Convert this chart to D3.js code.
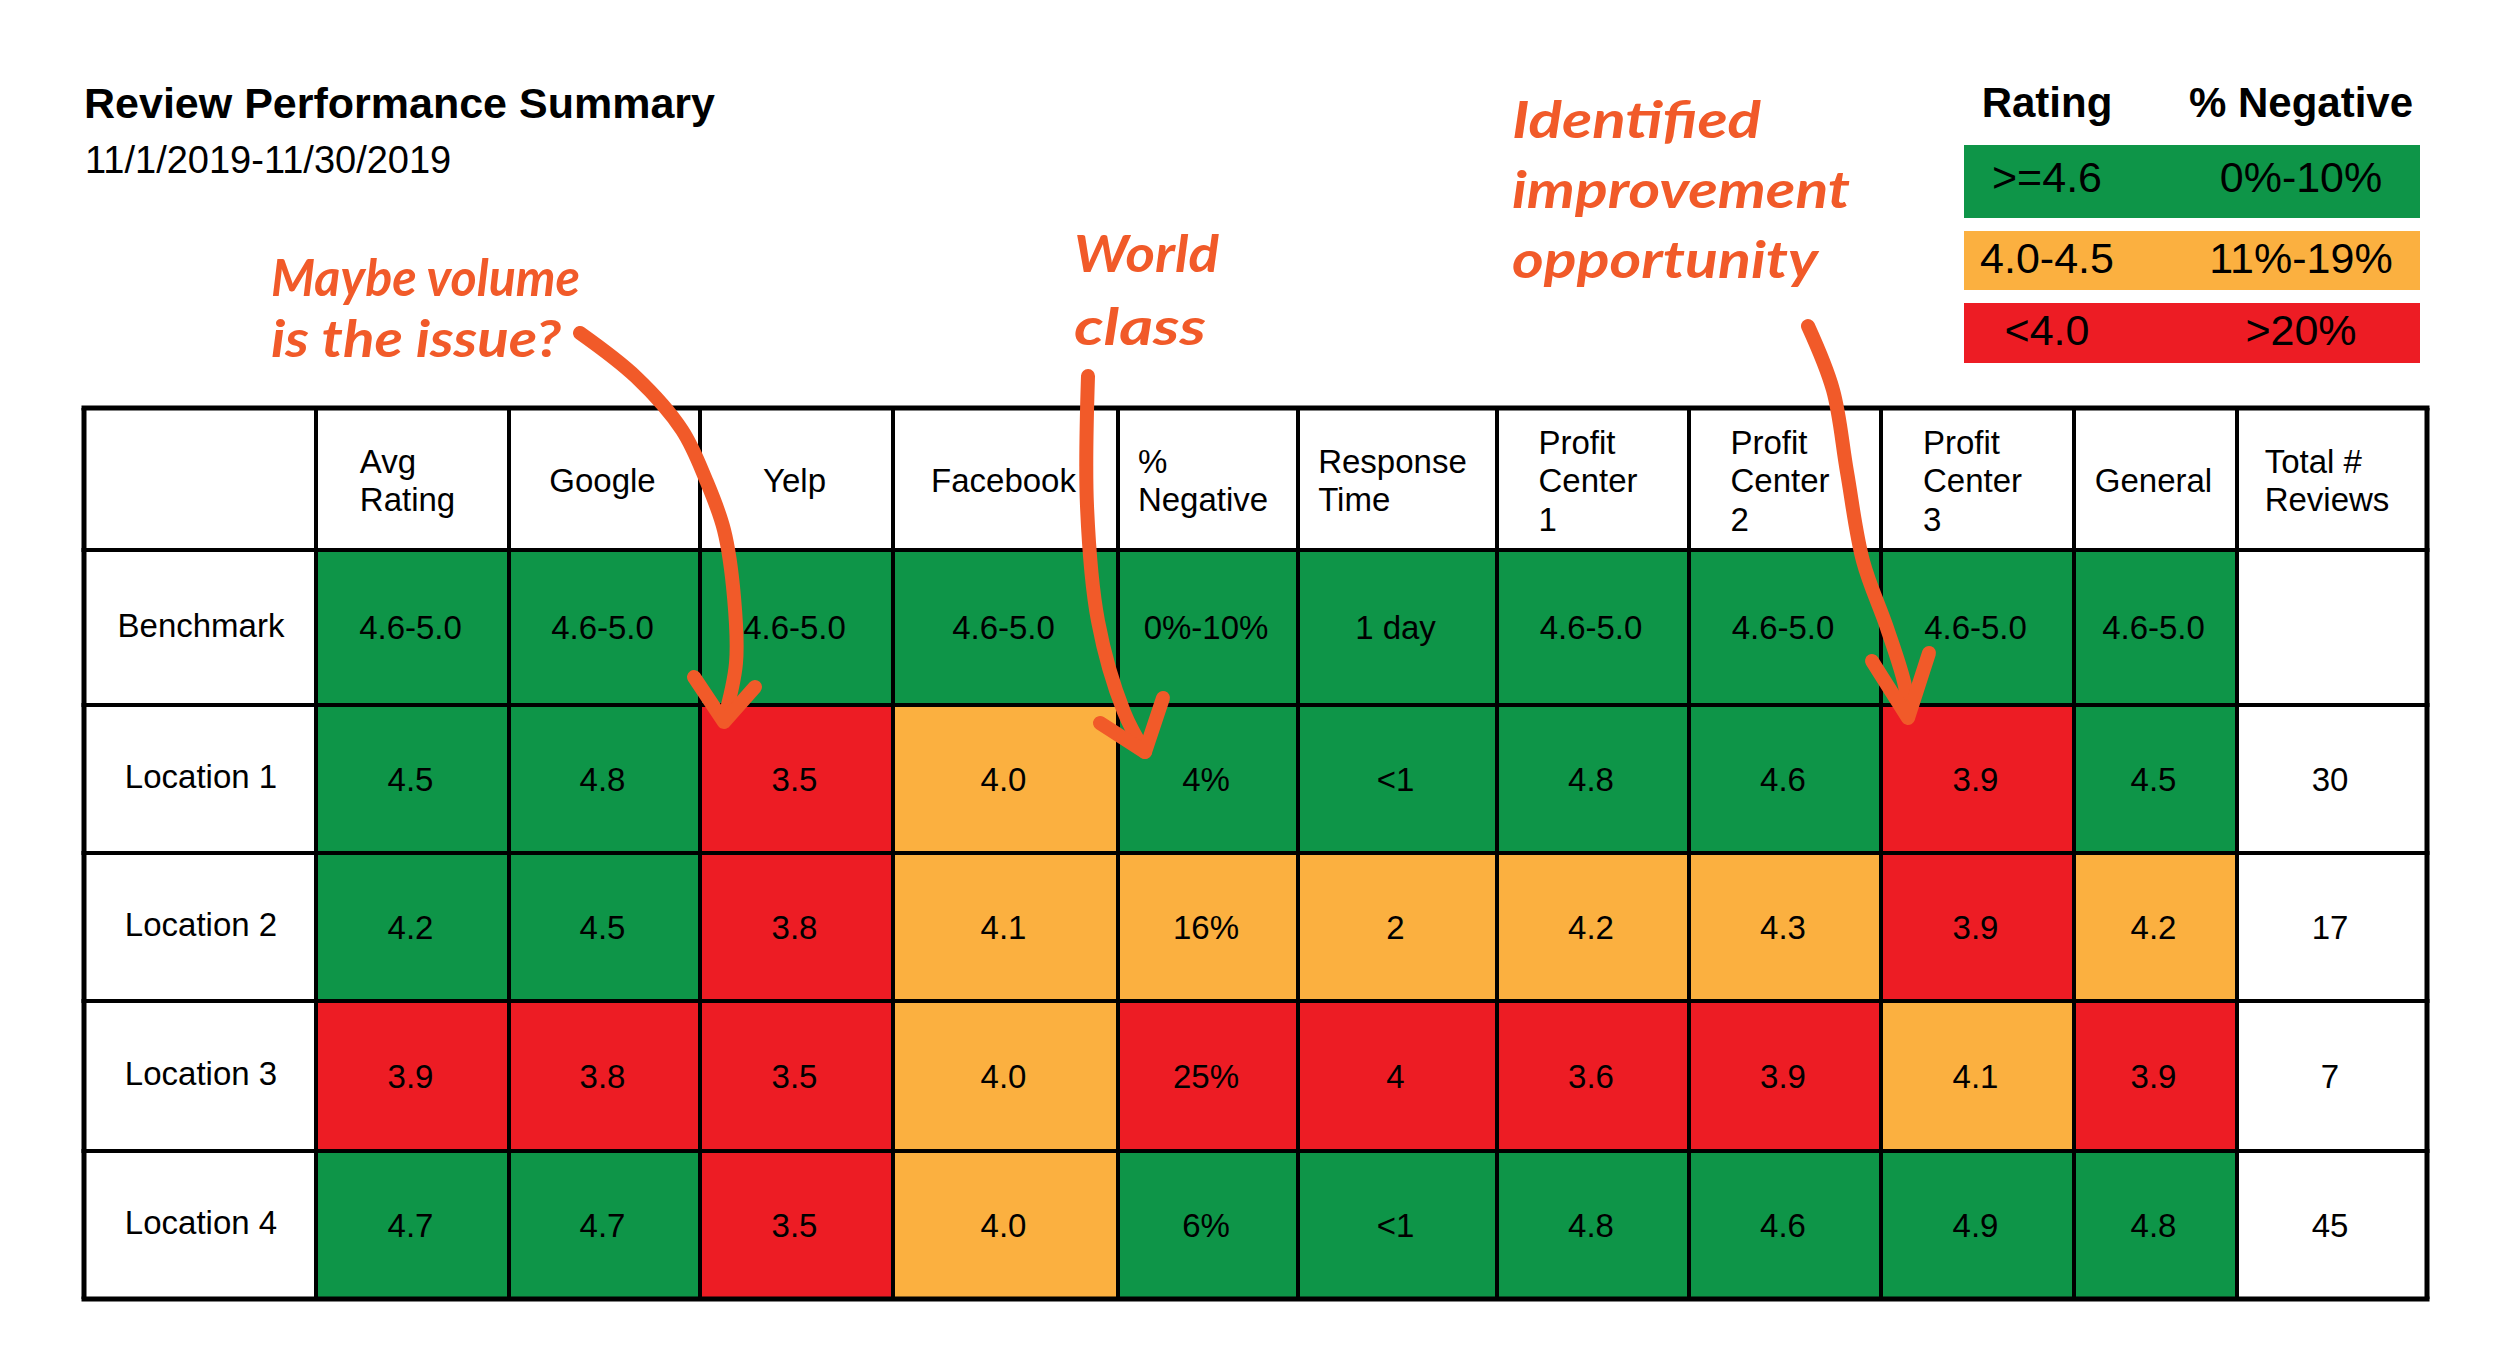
<!DOCTYPE html>
<html><head><meta charset="utf-8">
<script src="https://cdn.jsdelivr.net/npm/d3@7"></script>
<style>body{margin:0;background:#fff} svg{display:block}</style>
</head><body><svg id="c" width="2500" height="1367"></svg>
<script>
// ---------- DATA ----------
const title = "Review Performance Summary";
const subtitle = "11/1/2019-11/30/2019";
const columnHeaders = [[], ["Avg","Rating"], ["Google"], ["Yelp"], ["Facebook"], ["%","Negative"], ["Response","Time"], ["Profit","Center","1"], ["Profit","Center","2"], ["Profit","Center","3"], ["General"], ["Total #","Reviews"]];
const rowLabels = ["Benchmark","Location 1","Location 2","Location 3","Location 4"];
const cellValues = [
 ["4.6-5.0","4.6-5.0","4.6-5.0","4.6-5.0","0%-10%","1 day","4.6-5.0","4.6-5.0","4.6-5.0","4.6-5.0",""],
 ["4.5","4.8","3.5","4.0","4%","<1","4.8","4.6","3.9","4.5","30"],
 ["4.2","4.5","3.8","4.1","16%","2","4.2","4.3","3.9","4.2","17"],
 ["3.9","3.8","3.5","4.0","25%","4","3.6","3.9","4.1","3.9","7"],
 ["4.7","4.7","3.5","4.0","6%","<1","4.8","4.6","4.9","4.8","45"]
];
const cellStatus = [
 ["g","g","g","g","g","g","g","g","g","g","n"],
 ["g","g","r","o","g","g","g","g","r","g","n"],
 ["g","g","r","o","o","o","o","o","r","o","n"],
 ["r","r","r","o","r","r","r","r","o","r","n"],
 ["g","g","r","o","g","g","g","g","g","g","n"]
];
const legendHeaders = ["Rating","% Negative"];
const legendRating = [">=4.6","4.0-4.5","<4.0"];
const legendNegative = ["0%-10%","11%-19%",">20%"];
const legendStatus = ["g","o","r"];
const annotationTexts = [["Maybe volume","is the issue?"], ["World","class"], ["Identified","improvement","opportunity"]];

// ---------- LAYOUT ----------
const W = 2500, H = 1367;
const colEdges = [84,316,509,700,893,1118,1298,1497,1689,1881,2074,2237,2427];
const rowEdges = [408,550,705,853,1001,1151,1299];
const font = "'Liberation Sans', Arial, Helvetica, sans-serif";
const hand = "Lato, 'Noto Sans', sans-serif";
const orange = "#F15A29";
const tableFont = 33;

const svg = d3.select("#c");
svg.append("rect").attr("width", W).attr("height", H).attr("fill", "#fff");

const color = d3.scaleOrdinal().domain(["g","o","r","n"]).range(["#0E9548","#FBB040","#ED1C24","#FFFFFF"]);
const xEdge = d3.scaleOrdinal().domain(d3.range(colEdges.length)).range(colEdges);
const yEdge = d3.scaleOrdinal().domain(d3.range(rowEdges.length)).range(rowEdges);

// title
svg.append("text").attr("x", 84).attr("y", 118).attr("font-family", font).attr("font-weight", "bold")
  .attr("font-size", 43).attr("fill", "#000").text(title);
svg.append("text").attr("x", 85).attr("y", 173).attr("font-family", font)
  .attr("font-size", 38).attr("fill", "#000").text(subtitle);

// legend
const legendX0 = 1964, legendX1 = 2420;
const legendBoxes = [[145,73],[231,59],[303,60]];
const legendBase = [192,273,345];
const legendCx = [2047, 2301];
const lg = svg.append("g");
lg.selectAll("text.h").data(legendHeaders).join("text").attr("class","h")
  .attr("x", (d,i) => legendCx[i]).attr("y", 117).attr("text-anchor","middle")
  .attr("font-family", font).attr("font-weight","bold").attr("font-size", 42).text(d => d);
lg.selectAll("rect").data(legendStatus).join("rect")
  .attr("x", legendX0).attr("width", legendX1 - legendX0)
  .attr("y", (d,i) => legendBoxes[i][0]).attr("height", (d,i) => legendBoxes[i][1])
  .attr("fill", d => color(d));
lg.selectAll("text.r").data(legendRating).join("text").attr("class","r")
  .attr("x", legendCx[0]).attr("y", (d,i) => legendBase[i]).attr("text-anchor","middle")
  .attr("font-family", font).attr("font-size", 43).text(d => d);
lg.selectAll("text.n").data(legendNegative).join("text").attr("class","n")
  .attr("x", legendCx[1]).attr("y", (d,i) => legendBase[i]).attr("text-anchor","middle")
  .attr("font-family", font).attr("font-size", 43).text(d => d);

// table cells
const cells = [];
cellValues.forEach((row, r) => row.forEach((v, c) => cells.push({r: r+1, c: c+1, v, s: cellStatus[r][c]})));
const tg = svg.append("g");
tg.append("rect").attr("x", colEdges[0]).attr("y", rowEdges[0])
  .attr("width", colEdges[colEdges.length-1]-colEdges[0]).attr("height", rowEdges[rowEdges.length-1]-rowEdges[0]).attr("fill","#fff");
tg.selectAll("rect.cell").data(cells).join("rect").attr("class","cell")
  .attr("x", d => xEdge(d.c)).attr("y", d => yEdge(d.r))
  .attr("width", d => xEdge(d.c+1) - xEdge(d.c)).attr("height", d => yEdge(d.r+1) - yEdge(d.r))
  .attr("fill", d => color(d.s));
tg.selectAll("text.val").data(cells).join("text").attr("class","val")
  .attr("x", d => (xEdge(d.c) + xEdge(d.c+1))/2 - 2).attr("y", d => (yEdge(d.r) + yEdge(d.r+1))/2)
  .attr("dy", "0.35em").attr("text-anchor","middle").attr("font-family", font).attr("font-size", tableFont)
  .text(d => d.v);
tg.selectAll("text.rl").data(rowLabels).join("text").attr("class","rl")
  .attr("x", (xEdge(0)+xEdge(1))/2 + 1).attr("y", (d,i) => (yEdge(i+1)+yEdge(i+2))/2)
  .attr("dy", "0.28em").attr("text-anchor","middle").attr("font-family", font).attr("font-size", tableFont)
  .text(d => d);

// headers
const headerCy = (rowEdges[0] + rowEdges[1]) / 2;
const lineH = 38.5;
columnHeaders.forEach((lines, c) => {
  if (!lines.length) return;
  const cx = (xEdge(c) + xEdge(c+1)) / 2;
  const g = tg.append("g");
  const ts = g.selectAll("text").data(lines).join("text")
    .attr("y", (d,i) => headerCy - (lines.length-1)*lineH/2 + i*lineH)
    .attr("dy", "0.4em").attr("font-family", font).attr("font-size", tableFont).text(d => d);
  const maxW = d3.max(ts.nodes(), n => n.getComputedTextLength());
  if (lines.length === 1) ts.attr("x", cx - 2).attr("text-anchor","middle");
  else ts.attr("x", cx - maxW/2 - 5);
});

// grid lines
const x0 = colEdges[0], x1 = colEdges[colEdges.length-1], y0 = rowEdges[0], y1 = rowEdges[rowEdges.length-1];
tg.selectAll("line.v").data(colEdges).join("line").attr("class","v")
  .attr("x1", d => d).attr("x2", d => d).attr("y1", y0).attr("y2", y1)
  .attr("stroke","#000").attr("stroke-width", (d,i) => (i===0||i===colEdges.length-1) ? 5 : 4);
tg.selectAll("line.h").data(rowEdges).join("line").attr("class","h")
  .attr("y1", d => d).attr("y2", d => d).attr("x1", x0 - 2.5).attr("x2", x1 + 2.5)
  .attr("stroke","#000").attr("stroke-width", (d,i) => (i===0||i===rowEdges.length-1) ? 5 : 4);

// annotations
const annLayout = [
  {x: 271, base: [296, 357], widths: [309, 290]},
  {x: 1074, base: [272, 345], widths: [145, 132]},
  {x: 1512, base: [138, 208, 278], widths: [249, 338, 306]}
];
annotationTexts.forEach((lines, k) => {
  const L = annLayout[k];
  svg.append("g").selectAll("text").data(lines).join("text")
    .attr("x", L.x).attr("y", (d,i) => L.base[i])
    .attr("font-family", hand).attr("font-weight", "bold").attr("font-style","italic")
    .attr("font-size", 52).attr("fill", orange)
    .attr("textLength", (d,i) => L.widths[i]).attr("lengthAdjust","spacingAndGlyphs")
    .text(d => d);
});

// arrows
const arrows = [
  {shaft: [[580,333],[636,377],[682,430],[706,480],[724,530],[734,597],[736,663],[724,720]],
   head: [[694,677],[724,722],[755,687]]},
  {shaft: [[1088,376],[1087,506],[1098,621],[1124,712],[1145,752]],
   head: [[1100,723],[1145,752],[1163,698]]},
  {shaft: [[1808,326],[1833,390],[1847,472],[1863,561],[1887,628],[1905,686],[1908,717]],
   head: [[1872,661],[1908,718],[1929,653]]}
];
const shaftLine = d3.line().curve(d3.curveCatmullRom.alpha(0.5));
const headLine = d3.line();
const ag = svg.append("g").attr("fill","none").attr("stroke", orange).attr("stroke-width", 14)
  .attr("stroke-linecap","round").attr("stroke-linejoin","round");
ag.selectAll("path.s").data(arrows).join("path").attr("class","s").attr("d", d => shaftLine(d.shaft));
ag.selectAll("path.hd").data(arrows).join("path").attr("class","hd").attr("d", d => headLine(d.head));
</script>
</body></html>
